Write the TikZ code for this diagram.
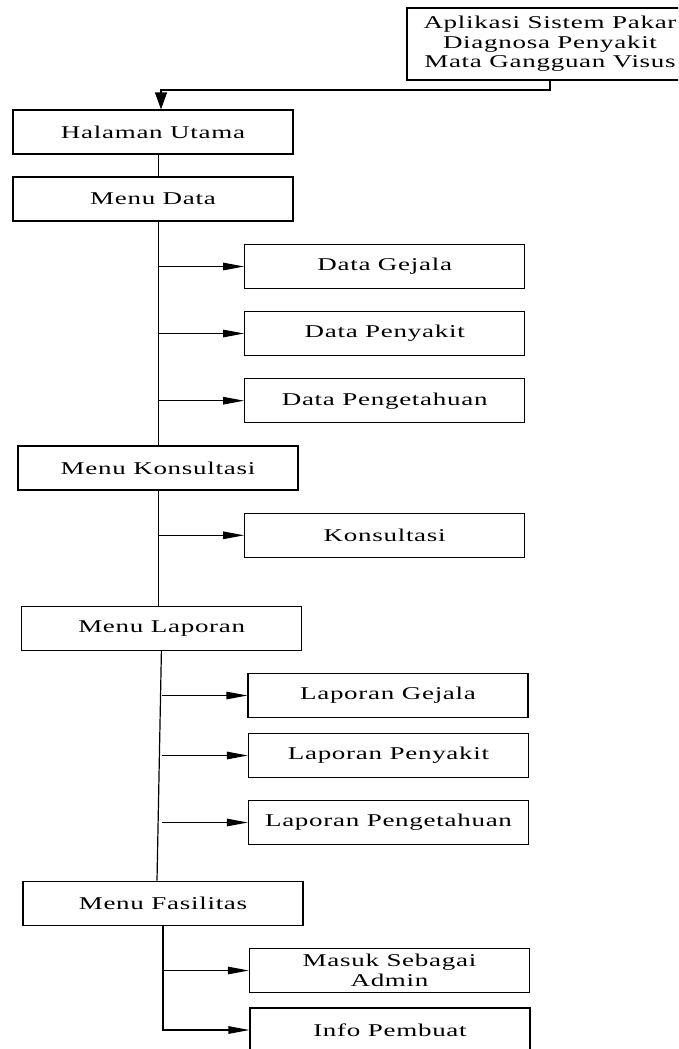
\documentclass[tikz,border=0pt]{standalone}
\usepackage{fontspec}
\usepackage{tikz}
\usetikzlibrary{arrows.meta,positioning,calc}
\newfontfamily\diafont[FakeStretch=1.5,LetterSpace=4]{Liberation Serif}

\begin{document}
\begin{tikzpicture}[x=1pt, y=-1pt,
		menubox/.style={draw, line width=1.2pt, minimum width=280pt, minimum height=44pt, inner sep=0pt, align=center,
			font=\diafont\fontsize{18}{19.6}\selectfont},
		arr/.style={-{Triangle[length=21pt,width=7.5pt]}, line width=1.2pt},
		conn/.style={line width=1.2pt}]
				\useasboundingbox (0,0) rectangle (678,1049);
				\clip (0,0) rectangle (678,1049);
				% root
				\node[menubox, minimum width=286pt, minimum height=72pt] (app) at (550,44)
					{Aplikasi Sistem Pakar\\Diagnosa Penyakit\\Mata Gangguan Visus};
				% main menus
				\node[menubox] (halaman) at (153,132) {Halaman Utama};
				\node[menubox] (mdata) at (153,199) {Menu Data};
				\node[menubox] (mkons) at (158,468) {Menu Konsultasi};
				\node[menubox] (mlap) at (161.7,628.5) {Menu Laporan};
				\node[menubox] (mfas) at (163,903.3) {Menu Fasilitas};
				% sub menus
				\node[menubox] (dgejala) at (384.7,266.5) {Data Gejala};
				\node[menubox] (dpenyakit) at (384.7,333.5) {Data Penyakit};
				\node[menubox] (dpengetahuan) at (384.7,400.7) {Data Pengetahuan};
				\node[menubox] (konsultasi) at (384.7,535.3) {Konsultasi};
				\node[menubox] (lgejala) at (388,695.5) {Laporan Gejala};
				\node[menubox] (lpenyakit) at (388.5,755.5) {Laporan Penyakit};
				\node[menubox] (lpengetahuan) at (388.5,822.5) {Laporan Pengetahuan};
				\node[menubox] (masuk) at (389.5,970.5) {Masuk Sebagai\\Admin};
				\node[menubox] (info) at (390,1030) {Info Pembuat};
				% trunk positions
				\coordinate (t1) at (158.4,0);
				\coordinate (t2) at (162,0);
				\coordinate (t3) at (163,0);
				\coordinate (bend) at (550,90);
				% connectors
				\draw[conn, -{Triangle[length=17pt,width=12pt]}] (app.south) -- (bend) -| ($(halaman.north)+(8,0)$);
				\draw[conn] (halaman.south -| t1) -- (mdata.north -| t1);
				\draw[conn] (mdata.south -| t1) -- (mkons.north -| t1);
				\draw[conn] (mkons.south -| t1) -- (mlap.north -| t1);
				\draw[conn] ($(mlap.south -| t1)+(3,0)$) -- ($(mfas.north -| t1)+(-1.4,0)$);
				\foreach \sub in {dgejala,dpenyakit,dpengetahuan,konsultasi}
					\draw[arr] (\sub.west -| t1) -- (\sub.west);
				\foreach \sub in {lgejala,lpenyakit,lpengetahuan}
					\draw[arr] (\sub.west -| t2) -- (\sub.west);
				\draw[arr] (mfas.south -| t3) |- (info.west);
				\draw[arr] (masuk.west -| t3) -- (masuk.west);
			\end{tikzpicture}
\end{document}
